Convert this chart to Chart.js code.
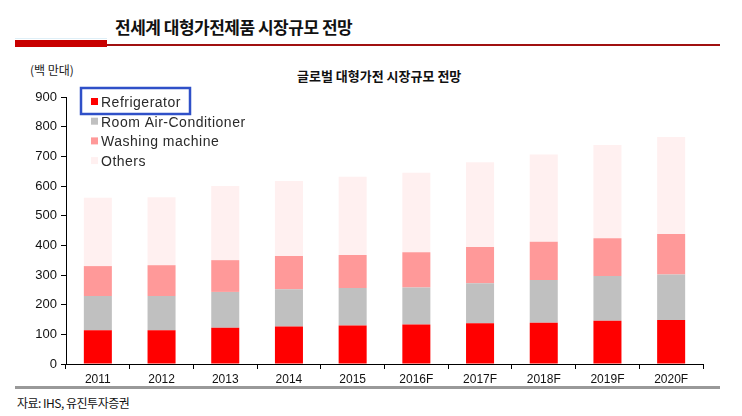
<!DOCTYPE html>
<html><head><meta charset="utf-8">
<script src="https://cdn.jsdelivr.net/npm/chart.js@4"></script>
<style>
html,body{margin:0;padding:0;background:#fff;width:742px;height:416px;overflow:hidden;position:relative;font-family:"Noto Sans CJK KR","Liberation Sans",sans-serif;}
#wrap{position:absolute;left:0;top:0;width:742px;height:416px;}
.abs{position:absolute;white-space:nowrap;}
</style></head>
<body>
<div class="abs" style="left:115px;top:14px;font-size:17px;font-weight:bold;color:#111;letter-spacing:-0.5px;">전세계 대형가전제품 시장규모 전망</div>
<div class="abs" style="left:15px;top:38px;width:92px;height:1px;background:#dfeff7;"></div>
<div class="abs" style="left:15px;top:40px;width:92px;height:7px;background:#c80000;"></div>
<div class="abs" style="left:107px;top:44px;width:613px;height:2px;background:#a01010;"></div>
<div class="abs" style="left:30px;top:61px;font-size:12px;color:#222;">(백 만대)</div>
<div class="abs" style="left:297px;top:66px;font-size:13px;font-weight:bold;color:#111;">글로벌 대형가전 시장규모 전망</div>
<div class="abs" style="left:15px;top:386px;width:705px;height:3px;background:#999;"></div>
<div class="abs" style="left:17px;top:394px;font-size:12px;color:#111;letter-spacing:-0.5px;">자료: IHS, 유진투자증권</div>
<div id="wrap"><canvas id="c" width="742" height="416"></canvas></div>
<script>
const categories = ['2011','2012','2013','2014','2015','2016F','2017F','2018F','2019F','2020F'];
const refrigerator = [114,114,122,126,130,133,137,139,146,148];
const roomAirConditioner = [115,115,121,126,126,125,135,144,151,154];
const washingMachine = [101,104,107,112,111,119,122,129,127,136];
const others = [230,229,250,253,264,268,286,294,314,327];
const yTicks = [0,100,200,300,400,500,600,700,800,900];

const legendPlugin = {
  id:'insideLegend',
  afterDraw(chart){
    const ctx = chart.ctx;
    ctx.save();
    ctx.font = '14px "Liberation Sans", Arial, sans-serif';
    ctx.letterSpacing = '0.5px';
    ctx.textBaseline = 'middle';
    chart.data.datasets.forEach((ds,i)=>{
      const y = 102 + i*19.7;
      ctx.fillStyle = ds.backgroundColor;
      ctx.fillRect(91, y-4, 7, 7);
      ctx.fillStyle = '#2a2a2a';
      ctx.fillText(ds.label, 101, y+1);
    });
    ctx.strokeStyle = '#2f50c8';
    ctx.lineWidth = 2.5;
    ctx.strokeRect(81, 88, 109, 26);
    ctx.restore();
  }
};

new Chart(document.getElementById('c'), {
  type:'bar',
  data:{
    labels:categories,
    datasets:[
      {label:'Refrigerator', data:refrigerator, backgroundColor:'#ff0000'},
      {label:'Room Air-Conditioner', data:roomAirConditioner, backgroundColor:'#c0c0c0'},
      {label:'Washing machine', data:washingMachine, backgroundColor:'#ff9999'},
      {label:'Others', data:others, backgroundColor:'#fff0f0'}
    ]
  },
  options:{
    responsive:false,
    animation:false,
    devicePixelRatio:1,
    layout:{padding:{left:0,right:39,top:97,bottom:22}},
    datasets:{bar:{barPercentage:0.44,categoryPercentage:1,borderWidth:0}},
    plugins:{legend:{display:false},title:{display:false},tooltip:{enabled:false}},
    scales:{
      x:{
        stacked:true,
        grid:{drawOnChartArea:false,drawTicks:true,tickLength:5,color:'#000',offset:true},
        border:{display:true,color:'#000',width:1},
        ticks:{color:'#111',font:{family:'"Liberation Sans", Arial, sans-serif',size:12},padding:3,maxRotation:0},
        afterFit(s){s.height=30;}
      },
      y:{
        stacked:true,
        min:0,max:900,
        afterBuildTicks(s){s.ticks = yTicks.map(v=>({value:v}));},
        grid:{drawOnChartArea:false,drawTicks:true,tickLength:5,color:'#000'},
        border:{display:true,color:'#000',width:1},
        ticks:{color:'#111',font:{family:'"Liberation Sans", Arial, sans-serif',size:13},padding:4},
        afterFit(s){s.width=66;}
      }
    }
  },
  plugins:[legendPlugin]
});
</script>
</body></html>
